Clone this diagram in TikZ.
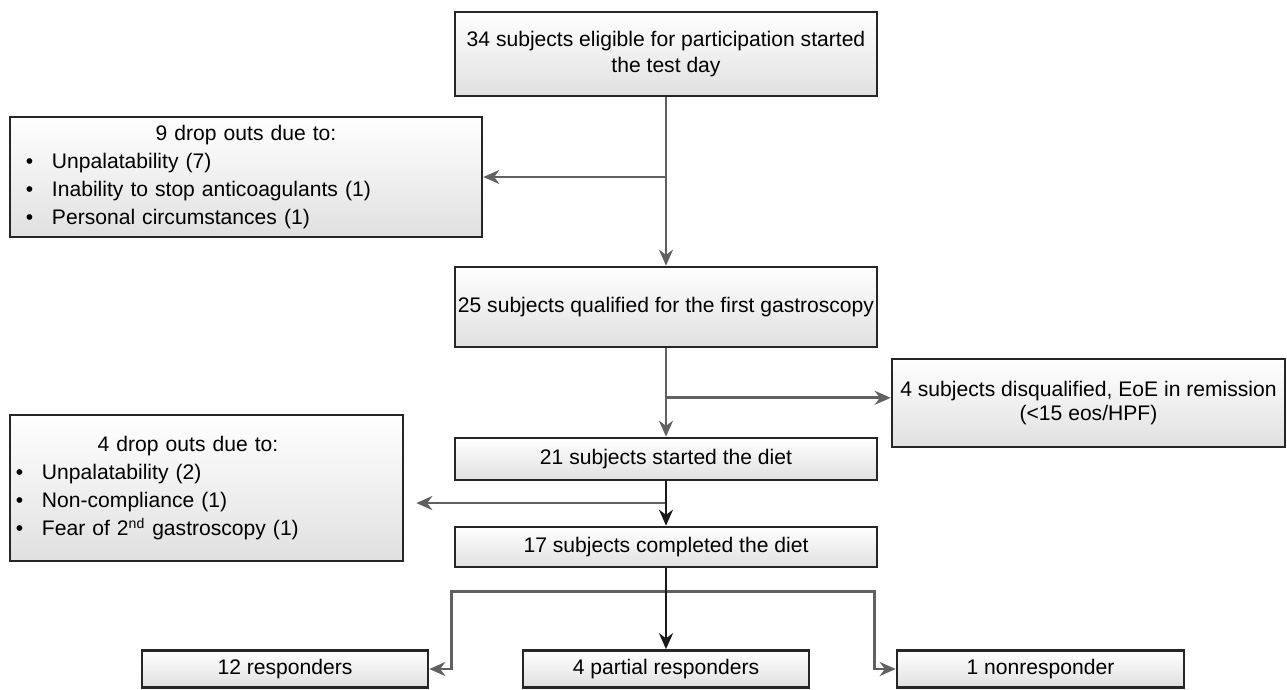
\documentclass[tikz,border=0pt]{standalone}
\usepackage{fontspec}
\setmainfont{Liberation Sans}
\usepackage{array}
\usetikzlibrary{calc,
shadows,
arrows.meta,
positioning}

\begin{document}
\begin{tikzpicture} [flow/.style={-{Stealth[length=0.32cm, width=0.28cm]},
      line width = 1.5pt, draw = black!62},
    dark flow/.style={flow, draw = black!90},
    main node/.style={rectangle, draw = black!85, line width = 1.5pt,
      top color = white, bottom color = black!12,
      drop shadow = {shadow xshift = 0.8pt, shadow yshift = -0.8pt,
        opacity = 0.25},
      align = center, inner sep = 0pt},
    every node/.style={font=\fontsize{12}{16}\selectfont}
  ]

  \useasboundingbox (0, 0) rectangle (25.74, -13.8);

  \node [main node,
    minimum width = 8.44cm,
    minimum height = 1.68cm,
    font = \fontsize{12}{14.7}\selectfont
  ] (start) at (13.32, -1.08) {34 subjects eligible for participation started\\
      the test day};

  \node [main node,
    minimum width = 9.44cm,
    minimum height = 2.4cm,
    text width = 9.44cm,
    align = left
  ] (drop1) at (4.92, -3.54) {%
    \begin{tabular}{@{\hspace{0.32cm}}p{0.52cm}@{}p{8.6cm}@{}}
      \multicolumn{2}{@{}c@{}}{9 drop outs due to:}\\
      \textbullet & Unpalatability (7)\\
      \textbullet & Inability to stop anticoagulants (1)\\
      \textbullet & Personal circumstances (1)
    \end{tabular}};

  \node [main node,
    minimum width = 8.44cm,
    minimum height = 1.6cm
  ] (qual) at (13.32, -6.14) {25 subjects qualified for the first gastroscopy};

  \node [main node,
    minimum width = 7.86cm,
    minimum height = 1.76cm,
    font = \fontsize{12}{13.2}\selectfont
  ] (disq) at (21.77, -8.06) {4 subjects disqualified, EoE in remission\\
      (\textless15 eos/HPF)};

  \node [main node,
    minimum width = 8.44cm,
    minimum height = 0.84cm
  ] (diet) at (13.32, -9.18) {21 subjects started the diet};

  \node [main node,
    minimum width = 7.86cm,
    minimum height = 2.92cm,
    text width = 7.86cm,
    align = left
  ] (drop2) at (4.13, -9.76) {%
    \begin{tabular}{@{\hspace{0.12cm}}p{0.52cm}@{}p{6.48cm}@{}}
      \multicolumn{2}{@{}c@{}}{4 drop outs due to:}\\
      \textbullet & Unpalatability (2)\\
      \textbullet & Non-compliance (1)\\
      \textbullet & Fear of 2\textsuperscript{nd} gastroscopy (1)
    \end{tabular}};

  \node [main node,
    minimum width = 8.44cm,
    minimum height = 0.8cm
  ] (done) at (13.32, -10.94) {17 subjects completed the diet};

  \node [main node,
    minimum width = 5.72cm,
    minimum height = 0.74cm
  ] (resp) at (5.70, -13.38) {12 responders};

  \node [main node,
    minimum width = 5.72cm,
    minimum height = 0.74cm
  ] (partial) at (13.32, -13.38) {4 partial responders};

  \node [main node,
    minimum width = 5.74cm,
    minimum height = 0.74cm
  ] (nonresp) at (20.81, -13.38) {1 nonresponder};

  % first step
  \draw [flow] (start.south) -- (qual.north);
  \draw [flow] (start.south |- drop1.east) -- (drop1.east);

  % gastroscopy
  \coordinate (split2) at ($(qual.south)!0.56!(diet.north)$);
  \draw [flow] (qual.south) -- (diet.north);
  \draw [flow] (split2) -- (split2 -| disq.west);

  % diet
  \coordinate (split3) at ($(diet.south)!0.49!(done.north)$);
  \draw [flow, shorten >= 0.24cm] (split3) -- (split3 -| drop2.east);
  \draw [dark flow] (diet.south) -- (done.north);

  % outcome
  \coordinate (split4) at ($(done.south) + (0, -0.46)$);
  \coordinate (left4) at ($(split4 -| resp.east) + (0.44, 0)$);
  \coordinate (right4) at ($(split4 -| nonresp.west) + (-0.42, 0)$);
  \draw [flow] (split4) -- (left4) |- (resp.east);
  \draw [flow] (split4) -- (right4) |- (nonresp.west);
  \draw [dark flow] (done.south) -- (partial.north);

\end{tikzpicture}
\end{document}
